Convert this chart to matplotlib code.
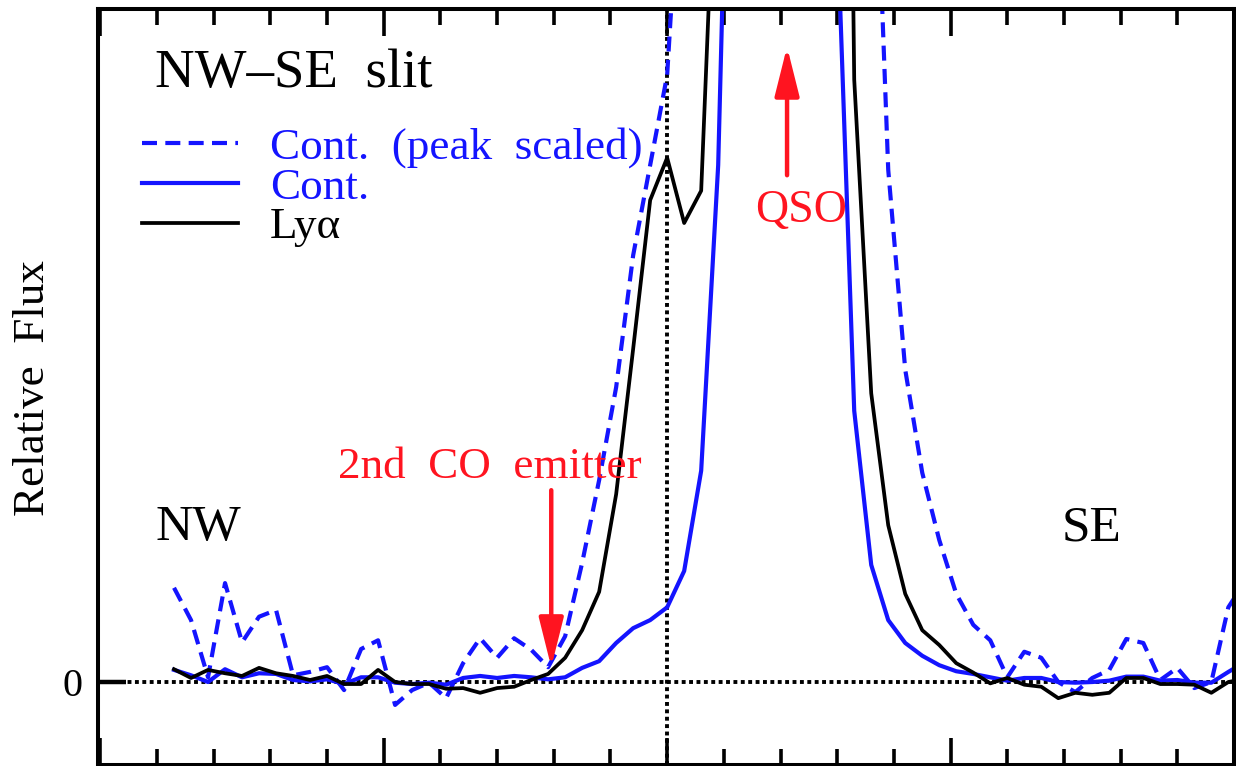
import numpy as np
import matplotlib
matplotlib.use("Agg")
import matplotlib.pyplot as plt

plt.rcParams["font.family"] = ["Liberation Serif", "DejaVu Serif"]

# slit positions: 0.06" pixels, QSO at 0
offset = np.arange(-29, 35) * 0.06

# continuum, scaled to the Lya peak (dashed)
cont_scaled = [
    0.140, 0.092, 0.007, 0.147, 0.059, 0.097, 0.107, 0.010, 0.015, 0.022,
    -0.012, 0.049, 0.062, -0.034, -0.012, -0.001, -0.024, 0.028, 0.065, 0.036,
    0.065, 0.048, 0.022, 0.068, 0.177, 0.300, 0.438, 0.634, 0.768,
    0.902,
    1.32, 1.9, 2.6, 3.2, 3.7, 4.0, 4.1, 3.9, 3.4, 2.8, 2.1, 1.44,
    0.761, 0.464, 0.311, 0.211, 0.131, 0.085, 0.062, 0.007, 0.045, 0.036,
    0.000, -0.015, 0.006, 0.018, 0.064, 0.058, 0.003, 0.021, -0.009, 0.000,
    0.111, 0.15,
]

# continuum
cont = [
    0.018, 0.010, 0.000, 0.019, 0.007, 0.013, 0.012, 0.003, 0.001, 0.004,
    -0.003, 0.007, 0.007, -0.001, -0.003, -0.001, -0.004, 0.006, 0.009, 0.006,
    0.009, 0.007, 0.004, 0.007, 0.021, 0.031, 0.058, 0.080, 0.092,
    0.111,
    0.165, 0.314, 0.768, 1.75, 3.2, 4.5, 5.0, 4.5, 3.0, 1.13, 0.403,
    0.174, 0.092, 0.058, 0.039, 0.025, 0.016, 0.012, 0.007, 0.002, 0.006,
    0.006, 0.000, -0.001, 0.000, 0.002, 0.008, 0.008, 0.002, 0.003, -0.001,
    -0.001, 0.015, 0.03,
]

# Lya
lya = [
    0.019, 0.006, 0.018, 0.013, 0.009, 0.021, 0.013, 0.009, 0.003, 0.009,
    -0.003, -0.003, 0.018, 0.000, -0.003, -0.003, -0.010, -0.009, -0.016, -0.009,
    -0.007, 0.003, 0.012, 0.036, 0.077, 0.134, 0.279, 0.495, 0.716,
    0.779,
    0.682, 0.730, 1.35, 2.0, 2.6, 3.0, 3.2, 3.3, 3.2, 3.0, 0.895,
    0.429, 0.233, 0.131, 0.077, 0.055, 0.028, 0.014, -0.002, 0.006, -0.004,
    -0.007, -0.024, -0.016, -0.019, -0.016, 0.006, 0.006, -0.003, -0.003, -0.004,
    -0.016, 0.000, 0.005,
]

labels = ["Cont.  (peak  scaled)", "Cont.", "Ly\u03b1"]
blue = "#1414ff"
red = "#ff1420"

fig = plt.figure(figsize=(12.36, 7.66), dpi=100)
ax = fig.add_axes([97.5 / 1236, 1 / 766, (1234 - 97.5) / 1236, (765 - 9) / 766])

l1, = ax.plot(offset, cont_scaled, color=blue, lw=3.0, ls=(0, (3.6, 2.0)))
l2, = ax.plot(offset, cont, color=blue, lw=3.0)
l3, = ax.plot(offset, lya, color="black", lw=2.7)

ax.axhline(0, color="black", lw=2.8, ls=(0, (1, 0.9)), zorder=1)
ax.axvline(0, color="black", lw=2.8, ls=(0, (1, 0.9)), zorder=1)

ax.set_xlim(-2.01, 2.0)
ax.set_ylim(-0.1233, 1.0)

ax.set_xticks(np.arange(-2, 2.01, 1))
ax.set_xticks(np.arange(-2, 2.01, 0.2), minor=True)
ax.tick_params(axis="x", which="both", direction="in", top=True, bottom=True,
               labelbottom=False, width=2.6)
ax.tick_params(axis="x", which="major", length=19.5)
ax.tick_params(axis="x", which="minor", length=11.5)
ax.set_yticks([0])
ax.tick_params(axis="y", direction="in", left=True, right=False, length=20,
               width=3.2, pad=11, labelsize=29)
for s in ax.spines.values():
    s.set_linewidth(2.9)

fig.text(33 / 1236, 1 - 388 / 766, "Relative  Flux", rotation=90,
         ha="center", va="center", fontsize=32.5)

ax.text(-1.806, 0.884, "NW\u2013SE  slit", fontsize=39.5, va="baseline")
ax.text(-1.806, 0.211, "NW", fontsize=37, va="baseline")
ax.text(1.393, 0.211, "SE", fontsize=37, va="baseline")
ax.text(0.310, 0.683, "QSO", fontsize=33, color=red, va="baseline")
ax.text(-1.160, 0.303, "2nd  CO  emitter", fontsize=32.5, color=red, va="baseline")

arrow = dict(arrowstyle="-|>,head_length=3.0,head_width=0.75", color=red,
             lw=3.2, shrinkA=0, shrinkB=0)
ax.annotate("", xy=(0.423, 0.944), xytext=(0.423, 0.753), arrowprops=arrow)
ax.annotate("", xy=(-0.409, 0.022), xytext=(-0.409, 0.285), arrowprops=arrow)

leg = ax.legend([l1, l2, l3], labels, loc="upper left",
                bbox_to_anchor=((142 - 97.5) / 1136.5, (765 - 127) / 756),
                frameon=False, fontsize=32.5, handlelength=2.13,
                handletextpad=0.7, labelspacing=-0.02, borderpad=0,
                borderaxespad=0)
for t, c in zip(leg.get_texts(), [blue, blue, "black"]):
    t.set_color(c)

fig.savefig("out.png", dpi=100)
